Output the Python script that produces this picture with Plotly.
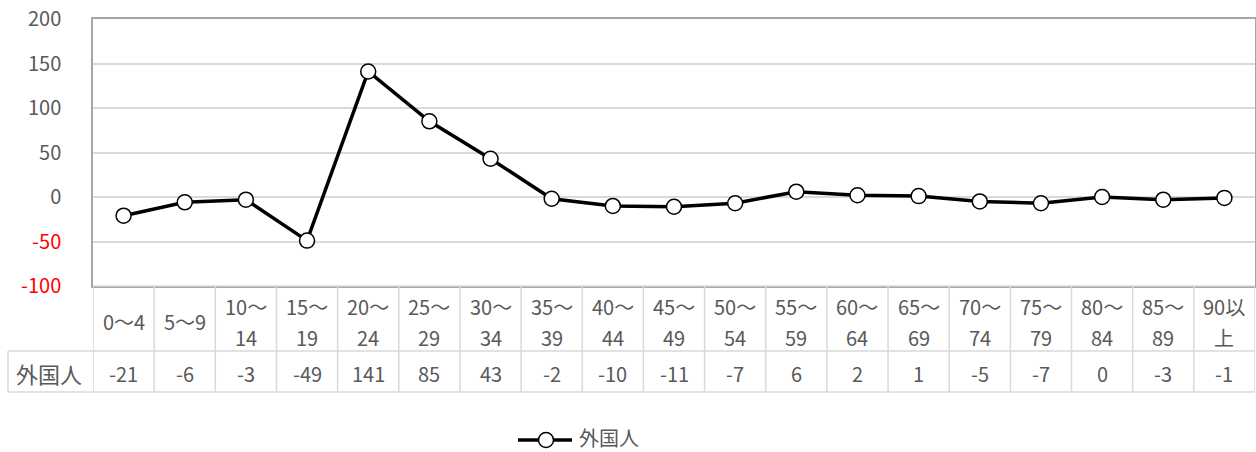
import plotly.graph_objects as go

# Age groups (two-line header labels) and net change of foreign residents
header_top = ["0～4", "5～9", "10～", "15～", "20～", "25～", "30～", "35～", "40～", "45～",
              "50～", "55～", "60～", "65～", "70～", "75～", "80～", "85～", "90以"]
header_bottom = ["", "", "14", "19", "24", "29", "34", "39", "44", "49",
                 "54", "59", "64", "69", "74", "79", "84", "89", "上"]
values = [-21, -6, -3, -49, 141, 85, 43, -2, -10, -11, -7, 6, 2, 1, -5, -7, 0, -3, -1]
series_name = "外国人"

y_ticks = [-100, -50, 0, 50, 100, 150, 200]

W, H = 1256, 452
ML, MR, MT, MB = 93, 1, 19, 166
plot_h = H - MT - MB
plot_w = W - ML - MR

FONT = "Noto Sans CJK JP"
GRAY_TXT = "#595959"
TABLE_LINE = "#d9d9d9"
AXIS_LINE = "#a6a6a6"


def py(pix):
    """Convert a page pixel row to paper y coordinate."""
    return (H - MB - pix) / plot_h


def px(pix):
    """Convert a page pixel column to paper x coordinate."""
    return (pix - ML) / plot_w


n = len(values)
xs = list(range(n))

fig = go.Figure()
fig.add_trace(go.Scatter(
    x=xs, y=values, mode="lines+markers", name=series_name,
    line=dict(color="black", width=3.5),
    marker=dict(symbol="circle", size=15, color="white",
                line=dict(color="black", width=1.5)),
    cliponaxis=False, showlegend=False,
))

ticktext = []
for v in y_ticks:
    col = "#ff0000" if v < 0 else GRAY_TXT
    ticktext.append(f"<span style='color:{col}'>{v}</span>")

shapes = []
annotations = []

# Data table grid
row_top = 286
row_mid = 351
row_bot = 392
for yy, x0 in [(row_top, px(ML)), (row_mid, px(8)), (row_bot, px(8))]:
    shapes.append(dict(type="line", xref="paper", yref="paper",
                       x0=x0, x1=1, y0=py(yy), y1=py(yy),
                       line=dict(color=TABLE_LINE, width=1.5)))
for i in range(n + 1):
    shapes.append(dict(type="line", xref="x", yref="paper",
                       x0=i - 0.5, x1=i - 0.5, y0=py(row_top), y1=py(row_bot),
                       line=dict(color=TABLE_LINE, width=1.5)))
shapes.append(dict(type="line", xref="paper", yref="paper",
                   x0=px(8), x1=px(8), y0=py(row_mid), y1=py(row_bot),
                   line=dict(color=TABLE_LINE, width=1.5)))

# Zero line
shapes.append(dict(type="line", xref="paper", yref="y", x0=0, x1=1, y0=0, y1=0,
                   line=dict(color="black", width=1), layer="below"))

tfont = dict(family=FONT, size=20, color=GRAY_TXT)
cjk_font = dict(family=FONT, size=22, color=GRAY_TXT)
for i in range(n):
    if header_bottom[i]:
        annotations.append(dict(x=i, y=py(306), xref="x", yref="paper", text=header_top[i],
                                showarrow=False, font=tfont, xanchor="center", yanchor="middle"))
        annotations.append(dict(x=i, y=py(337), xref="x", yref="paper", text=header_bottom[i],
                                showarrow=False, font=tfont, xanchor="center", yanchor="middle"))
    else:
        annotations.append(dict(x=i, y=py(321), xref="x", yref="paper", text=header_top[i],
                                showarrow=False, font=tfont, xanchor="center", yanchor="middle"))
    annotations.append(dict(x=i, y=py(373), xref="x", yref="paper", text=str(values[i]),
                            showarrow=False, font=tfont, xanchor="center", yanchor="middle"))

annotations.append(dict(x=px(49), y=py(373), xref="paper", yref="paper", text=series_name,
                        showarrow=False, font=cjk_font, xanchor="center", yanchor="middle"))

# Legend key: line with open circle marker, then series name
leg_y = 440
shapes.append(dict(type="line", xref="paper", yref="paper",
                   x0=px(518), x1=px(572), y0=py(leg_y), y1=py(leg_y),
                   line=dict(color="black", width=3.5)))
shapes.append(dict(type="circle", xref="paper", yref="paper",
                   x0=px(538.5), x1=px(553.5), y0=py(leg_y + 7.5), y1=py(leg_y - 7.5),
                   fillcolor="white", line=dict(color="black", width=1.5)))
annotations.append(dict(x=px(577), y=py(leg_y - 3), xref="paper", yref="paper", text=series_name,
                        showarrow=False, font=dict(family=FONT, size=20, color=GRAY_TXT),
                        xanchor="left", yanchor="middle"))

fig.update_layout(
    width=W, height=H,
    margin=dict(l=ML, r=MR, t=MT, b=MB, autoexpand=False),
    paper_bgcolor="white", plot_bgcolor="white",
    font=dict(family=FONT, color=GRAY_TXT, size=18),
    xaxis=dict(range=[-0.5, n - 0.5], showticklabels=False, showgrid=False,
               zeroline=False, showline=True, linecolor=AXIS_LINE, linewidth=1.5,
               mirror=True, ticks="", automargin=False),
    yaxis=dict(range=[-100, 200], tickvals=y_ticks, ticktext=ticktext,
               showgrid=True, gridcolor=TABLE_LINE, gridwidth=1.5,
               zeroline=False, showline=True, linecolor=AXIS_LINE, linewidth=1.5,
               mirror=True, ticks="", ticklabelstandoff=26, automargin=False,
               tickfont=dict(family=FONT, size=20, color=GRAY_TXT)),
    showlegend=False,
    shapes=shapes,
    annotations=annotations,
)

fig.write_html("out.html")
